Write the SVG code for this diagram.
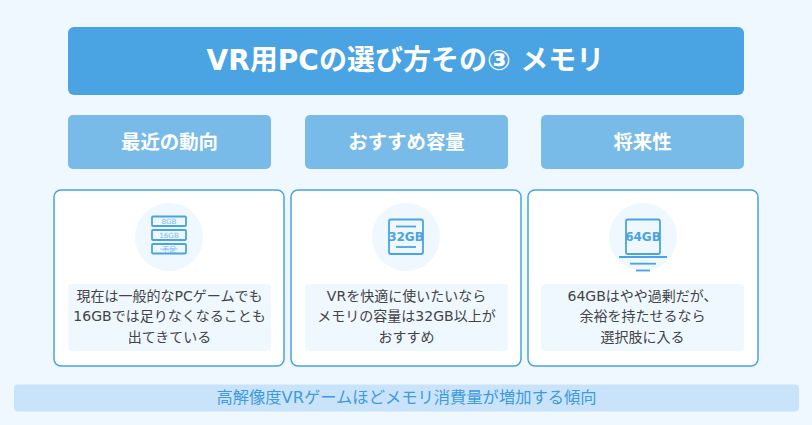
<svg xmlns="http://www.w3.org/2000/svg" width="812" height="425" viewBox="0 0 812 425">
<style>
text{font-family:"DejaVu Sans","Noto Sans CJK JP",sans-serif;text-anchor:middle}
.head{fill:#78bbe9}
.ht{font-size:19.4px;font-weight:700;fill:#fff}
.card{fill:#fff;stroke:#4aa3e2;stroke-width:1.5}
.circ{fill:#eff7ff}
.tb{fill:#eff7ff}
.t{font-size:14px;fill:#444}
.ic{fill:none;stroke:#4aa3e2;stroke-width:1.8}
.ln{stroke:#4aa3e2;stroke-width:1.8}
.sm{font-size:7.2px;fill:#78bbe9}
.big{font-size:12px;font-weight:700;fill:#4aa3e2}
</style>
<rect width="812" height="425" fill="#eff7ff"/>
<g id="title"><rect x="68" y="27" width="676" height="68" rx="6" fill="#4aa3e2"/><text x="405.500" y="70" font-size="28" font-weight="700" fill="#fff">VR用PCの選び方その③ メモリ</text></g>
<g id="head1"><rect class="head" x="68" y="115" width="203" height="54" rx="5"/><text class="ht" x="169.500" y="149">最近の動向</text></g>
<g id="head2"><rect class="head" x="305" y="115" width="203" height="54" rx="5"/><text class="ht" x="406.500" y="149">おすすめ容量</text></g>
<g id="head3"><rect class="head" x="541" y="115" width="203" height="54" rx="5"/><text class="ht" x="642.500" y="149">将来性</text></g>
<g id="card1"><rect class="card" x="54" y="190" width="230" height="176" rx="7"/><circle class="circ" cx="169" cy="237" r="34"/>
<rect class="ic" x="152" y="216.500" width="34" height="9.500" rx="1"/><text class="sm" x="169" y="224">8GB</text>
<rect class="ic" x="152" y="230" width="34" height="10" rx="1"/><text class="sm" x="169" y="238">16GB</text>
<rect class="ic" x="152" y="244" width="34" height="9.500" rx="1"/><text class="sm" x="169" y="252">不足</text><line x1="160" y1="249" x2="178" y2="249" stroke="#78bbe9" stroke-width=".7"/>
<rect class="tb" x="68" y="284" width="203" height="67" rx="4"/>
<text class="t" x="169.500" y="301">現在は一般的なPCゲームでも</text><text class="t" x="169.500" y="321">16GBでは足りなくなることも</text><text class="t" x="169.500" y="342">出てきている</text></g>
<g id="card2"><rect class="card" x="291" y="190" width="230" height="176" rx="7"/><circle class="circ" cx="406" cy="237" r="34"/>
<rect class="ic" x="389" y="219.500" width="34" height="34.500" rx="2"/><line class="ln" x1="396" y1="226.500" x2="416" y2="226.500"/><line class="ln" x1="396" y1="247" x2="416" y2="247"/><text class="big" x="406" y="241">32GB</text>
<rect class="tb" x="305" y="284" width="203" height="67" rx="4"/>
<text class="t" x="406.500" y="301">VRを快適に使いたいなら</text><text class="t" x="406.500" y="321">メモリの容量は32GB以上が</text><text class="t" x="406.500" y="342">おすすめ</text></g>
<g id="card3"><rect class="card" x="528" y="190" width="230" height="176" rx="7"/><circle class="circ" cx="643" cy="237" r="34"/>
<rect class="ic" x="626" y="219.500" width="34" height="34.500" rx="2"/><text class="big" x="643" y="241">64GB</text>
<line class="ln" x1="619" y1="257" x2="667" y2="257"/><line class="ln" x1="630" y1="263.700" x2="656" y2="263.700"/><line class="ln" x1="636" y1="270.500" x2="650" y2="270.500"/>
<rect class="tb" x="541" y="284" width="203" height="67" rx="4"/>
<text class="t" x="642.500" y="301">64GBはやや過剰だが、</text><text class="t" x="642.500" y="321">余裕を持たせるなら</text><text class="t" x="642.500" y="342">選択肢に入る</text></g>
<g id="note"><rect x="14" y="384.500" width="785" height="27" rx="4" fill="#c9e4fa"/><text x="406.500" y="403" font-size="16.3" fill="#3f9ade">高解像度VRゲームほどメモリ消費量が増加する傾向</text></g>
<g id="connectors"></g>
</svg>
